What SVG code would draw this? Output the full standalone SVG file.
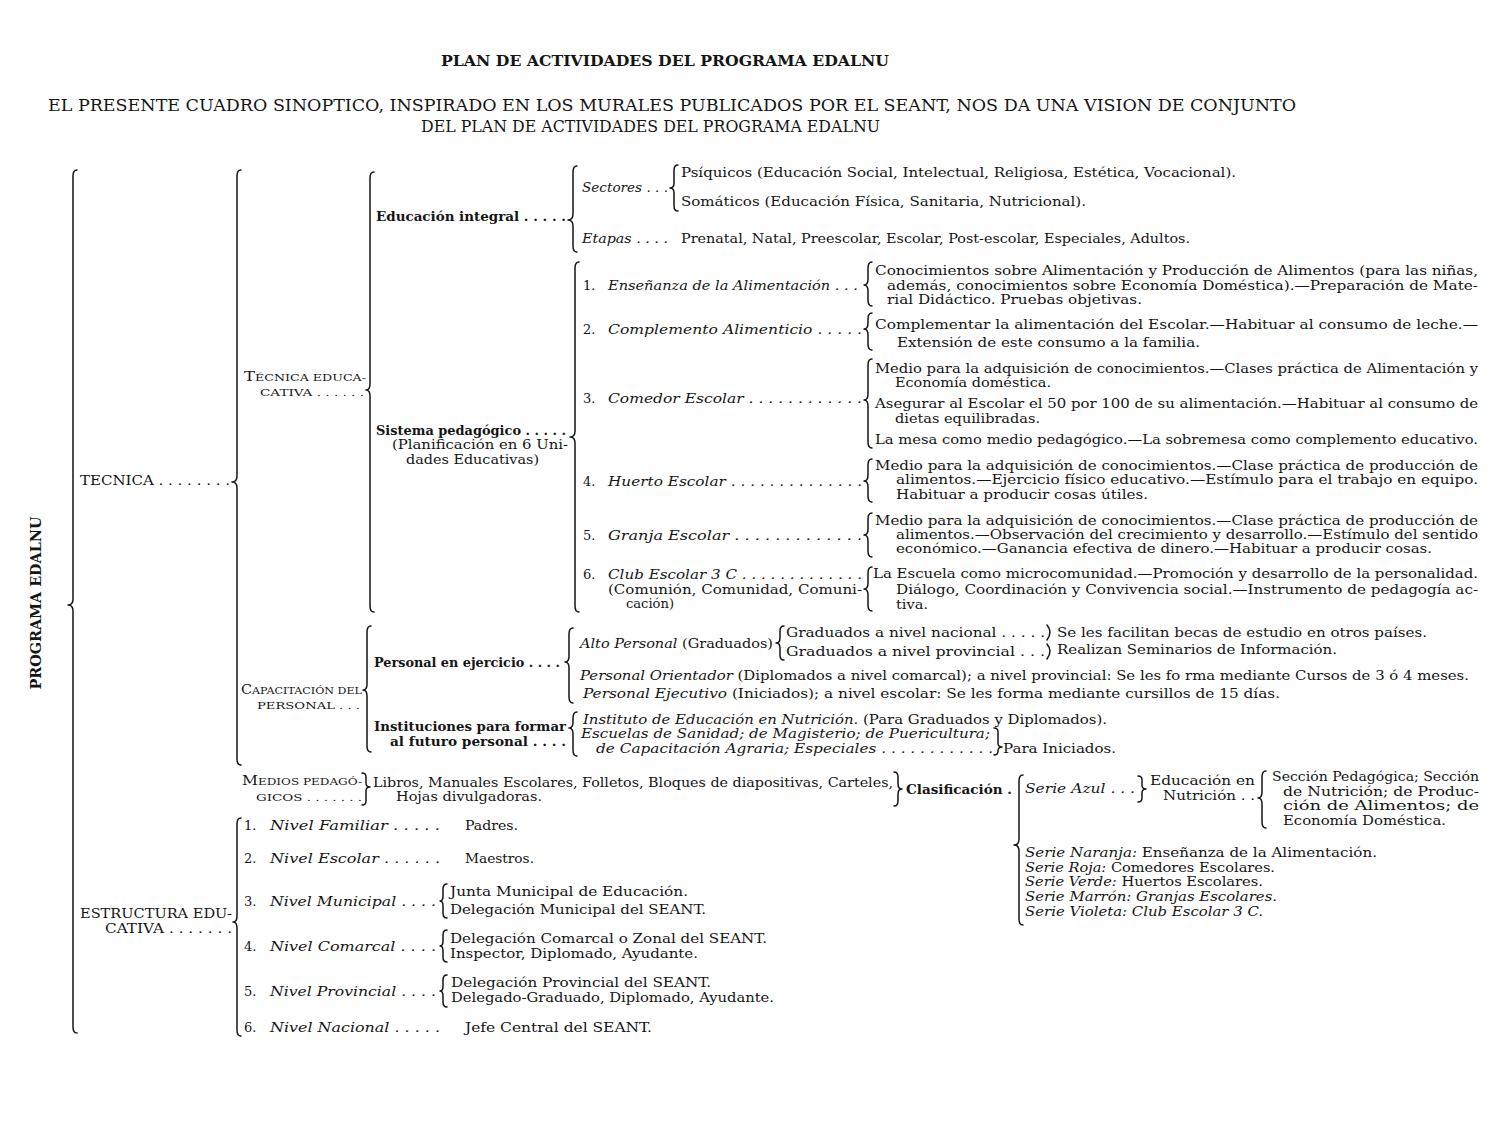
<svg xmlns="http://www.w3.org/2000/svg" width="1500" height="1138" viewBox="0 0 1500 1138">
<style>
text{font-family:"DejaVu Serif","Liberation Serif",serif;font-size:13px;fill:#151515}
.i{font-style:italic}
.b{font-weight:bold}
.sc{font-size:10px}
.big{font-size:13.5px}
.br{fill:none;stroke:#151515;stroke-width:1.5;stroke-linejoin:round;stroke-linecap:round}
</style>
<rect width="1500" height="1138" fill="#ffffff"/>

<g id="title">
<text x="441" y="66" class="b" style="font-size:15px" textLength="448" lengthAdjust="spacingAndGlyphs">PLAN DE ACTIVIDADES DEL PROGRAMA EDALNU</text>
<text x="48" y="111" style="font-size:16px" textLength="1248" lengthAdjust="spacingAndGlyphs">EL PRESENTE CUADRO SINOPTICO, INSPIRADO EN LOS MURALES PUBLICADOS POR EL SEANT, NOS DA UNA VISION DE CONJUNTO</text>
<text x="421" y="132" style="font-size:16px" textLength="459" lengthAdjust="spacingAndGlyphs">DEL PLAN DE ACTIVIDADES DEL PROGRAMA EDALNU</text>
</g>

<g id="connectors">
<path class="br" d="M77,170 Q73,170 73,176 L73,599 Q73,605 68,605 Q73,605 73,611 L73,1027 Q73,1033 77,1033"/>
<path class="br" d="M241,170 Q237,170 237,176 L237,476 Q237,482 232,482 Q237,482 237,488 L237,759 Q237,765 241,765"/>
<path class="br" d="M241,818 Q237,818 237,824 L237,916 Q237,922 233,922 Q237,922 237,928 L237,1030 Q237,1036 241,1036"/>
<path class="br" d="M374,172 Q370,172 370,178 L370,384 Q370,390 366,390 Q370,390 370,396 L370,606 Q370,612 374,612"/>
<path class="br" d="M371,626 Q367,626 367,632 L367,684 Q367,690 363,690 Q367,690 367,696 L367,746 Q367,752 371,752"/>
<path class="br" d="M362,773 Q366,773 366,777 L366,783 Q366,787 370,787 Q366,787 366,791 L366,801 Q366,805 362,805"/>
<path class="br" d="M577,166 Q573,166 573,172 L573,214 Q573,220 568,220 Q573,220 573,226 L573,246 Q573,252 577,252"/>
<path class="br" d="M579,262 Q575,262 575,268 L575,431 Q575,437 570,437 Q575,437 575,443 L575,606 Q575,612 579,612"/>
<path class="br" d="M573,628 Q569,628 569,634 L569,656 Q569,662 565,662 Q569,662 569,668 L569,697 Q569,703 573,703"/>
<path class="br" d="M577,712 Q573,712 573,718 L573,722 Q573,728 569,728 Q573,728 573,734 L573,750 Q573,756 577,756"/>
<path class="br" d="M678,165 Q674,165 674,170 L674,183 Q674,188 670,188 Q674,188 674,193 L674,206 Q674,211 678,211"/>
<path class="br" d="M872,262 Q868,262 868,268 L868,279 Q868,285 864,285 Q868,285 868,291 L868,300 Q868,306 872,306"/>
<path class="br" d="M872,313 Q868,313 868,319 L868,323 Q868,329 864,329 Q868,329 868,335 L868,344 Q868,350 872,350"/>
<path class="br" d="M872,359 Q868,359 868,365 L868,394 Q868,400 864,400 Q868,400 868,406 L868,442 Q868,448 872,448"/>
<path class="br" d="M872,459 Q868,459 868,465 L868,475 Q868,481 864,481 Q868,481 868,487 L868,496 Q868,502 872,502"/>
<path class="br" d="M872,513 Q868,513 868,519 L868,529 Q868,535 864,535 Q868,535 868,541 L868,551 Q868,557 872,557"/>
<path class="br" d="M872,567 Q868,567 868,573 L868,583 Q868,589 864,589 Q868,589 868,595 L868,605 Q868,611 872,611"/>
<path class="br" d="M784,626 Q780,626 780,631 L780,638 Q780,643 776,643 Q780,643 780,648 L780,655 Q780,660 784,660"/>
<path class="br" d="M1047,625 Q1053,632 1047,640"/>
<path class="br" d="M1047,644 Q1053,651 1047,659"/>
<path class="br" d="M994,728 Q998,728 998,732 L998,743 Q998,747 1002,747 Q998,747 998,751 L998,751 Q998,755 994,755"/>
<path class="br" d="M894,772 Q898,772 898,777 L898,784 Q898,789 902,789 Q898,789 898,794 L898,801 Q898,806 894,806"/>
<path class="br" d="M1023,775 Q1019,775 1019,781 L1019,839 Q1019,845 1014,845 Q1019,845 1019,851 L1019,919 Q1019,925 1023,925"/>
<path class="br" d="M1138,776 Q1142,776 1142,780 L1142,785 Q1142,789 1146,789 Q1142,789 1142,793 L1142,798 Q1142,802 1138,802"/>
<path class="br" d="M1266,771 Q1262,771 1262,777 L1262,792 Q1262,798 1258,798 Q1262,798 1262,804 L1262,822 Q1262,828 1266,828"/>
<path class="br" d="M447,884 Q443,884 443,889 L443,896 Q443,901 440,901 Q443,901 443,906 L443,913 Q443,918 447,918"/>
<path class="br" d="M447,930 Q443,930 443,935 L443,941 Q443,946 440,946 Q443,946 443,951 L443,957 Q443,962 447,962"/>
<path class="br" d="M447,975 Q443,975 443,980 L443,986 Q443,991 440,991 Q443,991 443,996 L443,1002 Q443,1007 447,1007"/>
</g>

<g id="n-programa">
<text transform="translate(41,603) rotate(-90)" text-anchor="middle" class="b" style="font-size:14px" textLength="173" lengthAdjust="spacingAndGlyphs">PROGRAMA EDALNU</text>
</g>

<g id="n-tecnica">
<text x="80" y="485" textLength="150" lengthAdjust="spacingAndGlyphs">TECNICA . . . . . . . .</text>
</g>

<g id="n-tecnica-educativa">
<text x="244" y="381" textLength="122" lengthAdjust="spacingAndGlyphs">T<tspan class="sc">ÉCNICA EDUCA-</tspan></text>
<text x="260" y="396" class="sc" textLength="104" lengthAdjust="spacingAndGlyphs">CATIVA . . . . . .</text>
</g>

<g id="n-educacion-integral">
<text x="376" y="221" class="b" textLength="190" lengthAdjust="spacingAndGlyphs">Educación integral . . . . .</text>
<text x="582" y="192" class="i" textLength="86" lengthAdjust="spacingAndGlyphs">Sectores . . .</text>
<text x="681" y="177" textLength="555" lengthAdjust="spacingAndGlyphs">Psíquicos (Educación Social, Intelectual, Religiosa, Estética, Vocacional).</text>
<text x="681" y="206" textLength="405" lengthAdjust="spacingAndGlyphs">Somáticos (Educación Física, Sanitaria, Nutricional).</text>
<text x="582" y="243" class="i" textLength="86" lengthAdjust="spacingAndGlyphs">Etapas . . . .</text>
<text x="681" y="243" textLength="509" lengthAdjust="spacingAndGlyphs">Prenatal, Natal, Preescolar, Escolar, Post-escolar, Especiales, Adultos.</text>
</g>

<g id="n-sistema-pedagogico">
<text x="376" y="435" class="b" textLength="190" lengthAdjust="spacingAndGlyphs">Sistema pedagógico . . . . .</text>
<text x="392" y="449" textLength="176" lengthAdjust="spacingAndGlyphs">(Planificación en 6 Uni-</text>
<text x="406" y="464" textLength="133" lengthAdjust="spacingAndGlyphs">dades Educativas)</text>
</g>

<g id="n-item1">
<text x="583" y="290">1.</text>
<text x="608" y="290" class="i" textLength="250" lengthAdjust="spacingAndGlyphs">Enseñanza de la Alimentación . . .</text>
<text x="875" y="275" textLength="603" lengthAdjust="spacingAndGlyphs">Conocimientos sobre Alimentación y Producción de Alimentos (para las niñas,</text>
<text x="887" y="290" textLength="591" lengthAdjust="spacingAndGlyphs">además, conocimientos sobre Economía Doméstica).—Preparación de Mate-</text>
<text x="887" y="304" textLength="255" lengthAdjust="spacingAndGlyphs">rial Didáctico. Pruebas objetivas.</text>
</g>

<g id="n-item2">
<text x="583" y="334">2.</text>
<text x="608" y="334" class="i" textLength="254" lengthAdjust="spacingAndGlyphs">Complemento Alimenticio . . . . .</text>
<text x="875" y="329" textLength="603" lengthAdjust="spacingAndGlyphs">Complementar la alimentación del Escolar.—Habituar al consumo de leche.—</text>
<text x="897" y="347" textLength="303" lengthAdjust="spacingAndGlyphs">Extensión de este consumo a la familia.</text>
</g>

<g id="n-item3">
<text x="583" y="403">3.</text>
<text x="608" y="403" class="i" textLength="254" lengthAdjust="spacingAndGlyphs">Comedor Escolar . . . . . . . . . . . .</text>
<text x="875" y="373" textLength="603" lengthAdjust="spacingAndGlyphs">Medio para la adquisición de conocimientos.—Clases práctica de Alimentación y</text>
<text x="895" y="387" textLength="156" lengthAdjust="spacingAndGlyphs">Economía doméstica.</text>
<text x="875" y="408" textLength="603" lengthAdjust="spacingAndGlyphs">Asegurar al Escolar el 50 por 100 de su alimentación.—Habituar al consumo de</text>
<text x="895" y="423" textLength="145" lengthAdjust="spacingAndGlyphs">dietas equilibradas.</text>
<text x="875" y="444" textLength="603" lengthAdjust="spacingAndGlyphs">La mesa como medio pedagógico.—La sobremesa como complemento educativo.</text>
</g>

<g id="n-item4">
<text x="583" y="486">4.</text>
<text x="608" y="486" class="i" textLength="254" lengthAdjust="spacingAndGlyphs">Huerto Escolar . . . . . . . . . . . . . .</text>
<text x="875" y="470" textLength="603" lengthAdjust="spacingAndGlyphs">Medio para la adquisición de conocimientos.—Clase práctica de producción de</text>
<text x="896" y="484" textLength="582" lengthAdjust="spacingAndGlyphs">alimentos.—Ejercicio físico educativo.—Estímulo para el trabajo en equipo.</text>
<text x="896" y="499" textLength="252" lengthAdjust="spacingAndGlyphs">Habituar a producir cosas útiles.</text>
</g>

<g id="n-item5">
<text x="583" y="540">5.</text>
<text x="608" y="540" class="i" textLength="254" lengthAdjust="spacingAndGlyphs">Granja Escolar . . . . . . . . . . . . .</text>
<text x="875" y="525" textLength="603" lengthAdjust="spacingAndGlyphs">Medio para la adquisición de conocimientos.—Clase práctica de producción de</text>
<text x="896" y="539" textLength="582" lengthAdjust="spacingAndGlyphs">alimentos.—Observación del crecimiento y desarrollo.—Estímulo del sentido</text>
<text x="896" y="553" textLength="536" lengthAdjust="spacingAndGlyphs">económico.—Ganancia efectiva de dinero.—Habituar a producir cosas.</text>
</g>

<g id="n-item6">
<text x="583" y="579">6.</text>
<text x="608" y="579" class="i" textLength="254" lengthAdjust="spacingAndGlyphs">Club Escolar 3 C . . . . . . . . . . . . .</text>
<text x="608" y="594" textLength="254" lengthAdjust="spacingAndGlyphs">(Comunión, Comunidad, Comuni-</text>
<text x="626" y="608" textLength="48" lengthAdjust="spacingAndGlyphs">cación)</text>
<text x="873" y="578" textLength="605" lengthAdjust="spacingAndGlyphs">La Escuela como microcomunidad.—Promoción y desarrollo de la personalidad.</text>
<text x="896" y="594" textLength="582" lengthAdjust="spacingAndGlyphs">Diálogo, Coordinación y Convivencia social.—Instrumento de pedagogía ac-</text>
<text x="896" y="609" textLength="32" lengthAdjust="spacingAndGlyphs">tiva.</text>
</g>

<g id="n-capacitacion">
<text x="241" y="694" textLength="121" lengthAdjust="spacingAndGlyphs">C<tspan class="sc">APACITACIÓN DEL</tspan></text>
<text x="257" y="709" class="sc" textLength="103" lengthAdjust="spacingAndGlyphs">PERSONAL . . .</text>
</g>

<g id="n-personal-ejercicio">
<text x="374" y="667" class="b" textLength="186" lengthAdjust="spacingAndGlyphs">Personal en ejercicio . . . .</text>
<text x="580" y="648" textLength="193" lengthAdjust="spacingAndGlyphs"><tspan class="i">Alto Personal</tspan> (Graduados)</text>
<text x="786" y="637" textLength="259" lengthAdjust="spacingAndGlyphs">Graduados a nivel nacional . . . . .</text>
<text x="1057" y="637" textLength="370" lengthAdjust="spacingAndGlyphs">Se les facilitan becas de estudio en otros países.</text>
<text x="786" y="656" textLength="259" lengthAdjust="spacingAndGlyphs">Graduados a nivel provincial . . .</text>
<text x="1057" y="654" textLength="280" lengthAdjust="spacingAndGlyphs">Realizan Seminarios de Información.</text>
<text x="580" y="680" textLength="889" lengthAdjust="spacingAndGlyphs"><tspan class="i">Personal Orientador</tspan> (Diplomados a nivel comarcal); a nivel provincial: Se les fo rma mediante Cursos de 3 ó 4 meses.</text>
<text x="583" y="698" textLength="697" lengthAdjust="spacingAndGlyphs"><tspan class="i">Personal Ejecutivo</tspan> (Iniciados); a nivel escolar: Se les forma mediante cursillos  de 15 días.</text>
</g>

<g id="n-instituciones">
<text x="374" y="731" class="b" textLength="192" lengthAdjust="spacingAndGlyphs">Instituciones para formar</text>
<text x="390" y="746" class="b" textLength="176" lengthAdjust="spacingAndGlyphs">al futuro personal . . . .</text>
<text x="583" y="724" textLength="524" lengthAdjust="spacingAndGlyphs"><tspan class="i">Instituto de Educación en Nutrición.</tspan> (Para Graduados y Diplomados).</text>
<text x="581" y="738" class="i" textLength="409" lengthAdjust="spacingAndGlyphs">Escuelas de Sanidad; de Magisterio; de Puericultura;</text>
<text x="596" y="753" class="i" textLength="397" lengthAdjust="spacingAndGlyphs">de Capacitación Agraria; Especiales . . . . . . . . . . . .</text>
<text x="1003" y="753" textLength="113" lengthAdjust="spacingAndGlyphs">Para Iniciados.</text>
</g>

<g id="n-medios">
<text x="242" y="785" textLength="120" lengthAdjust="spacingAndGlyphs">M<tspan class="sc">EDIOS PEDAGÓ-</tspan></text>
<text x="256" y="801" class="sc" textLength="106" lengthAdjust="spacingAndGlyphs">GICOS . . . . . . .</text>
<text x="373" y="787" textLength="520" lengthAdjust="spacingAndGlyphs">Libros, Manuales Escolares, Folletos, Bloques de diapositivas, Carteles,</text>
<text x="396" y="801" textLength="146" lengthAdjust="spacingAndGlyphs">Hojas divulgadoras.</text>
</g>

<g id="n-clasificacion">
<text x="906" y="794" class="b" textLength="106" lengthAdjust="spacingAndGlyphs">Clasificación .</text>
<text x="1025" y="793" class="i" textLength="110" lengthAdjust="spacingAndGlyphs">Serie Azul . . .</text>
<text x="1150" y="785" textLength="105" lengthAdjust="spacingAndGlyphs">Educación en</text>
<text x="1163" y="800" textLength="92" lengthAdjust="spacingAndGlyphs">Nutrición . .</text>
<text x="1272" y="781" textLength="207" lengthAdjust="spacingAndGlyphs">Sección Pedagógica; Sección</text>
<text x="1283" y="796" textLength="196" lengthAdjust="spacingAndGlyphs">de Nutrición; de Produc-</text>
<text x="1283" y="810" textLength="196" lengthAdjust="spacingAndGlyphs">ción de Alimentos; de</text>
<text x="1283" y="825" textLength="163" lengthAdjust="spacingAndGlyphs">Economía Doméstica.</text>
<text x="1025" y="857" textLength="352" lengthAdjust="spacingAndGlyphs"><tspan class="i">Serie Naranja:</tspan> Enseñanza de la Alimentación.</text>
<text x="1025" y="872" textLength="250" lengthAdjust="spacingAndGlyphs"><tspan class="i">Serie Roja:</tspan> Comedores Escolares.</text>
<text x="1025" y="886" textLength="238" lengthAdjust="spacingAndGlyphs"><tspan class="i">Serie Verde:</tspan> Huertos Escolares.</text>
<text x="1025" y="901" class="i" textLength="252" lengthAdjust="spacingAndGlyphs">Serie Marrón: Granjas Escolares.</text>
<text x="1025" y="916" class="i" textLength="238" lengthAdjust="spacingAndGlyphs">Serie Violeta: Club Escolar 3 C.</text>
</g>

<g id="n-estructura">
<text x="80" y="918" textLength="152" lengthAdjust="spacingAndGlyphs">ESTRUCTURA EDU-</text>
<text x="105" y="933" textLength="127" lengthAdjust="spacingAndGlyphs">CATIVA . . . . . . .</text>
</g>

<g id="n-niveles">
<text x="244" y="830">1.</text>
<text x="270" y="830" class="i" textLength="170" lengthAdjust="spacingAndGlyphs">Nivel Familiar . . . . .</text>
<text x="465" y="830" textLength="53" lengthAdjust="spacingAndGlyphs">Padres.</text>
<text x="244" y="863">2.</text>
<text x="270" y="863" class="i" textLength="170" lengthAdjust="spacingAndGlyphs">Nivel Escolar . . . . . .</text>
<text x="465" y="863" textLength="69" lengthAdjust="spacingAndGlyphs">Maestros.</text>
<text x="244" y="906">3.</text>
<text x="270" y="906" class="i" textLength="166" lengthAdjust="spacingAndGlyphs">Nivel Municipal . . . .</text>
<text x="450" y="896" textLength="238" lengthAdjust="spacingAndGlyphs">Junta Municipal de Educación.</text>
<text x="450" y="914" textLength="256" lengthAdjust="spacingAndGlyphs">Delegación Municipal del SEANT.</text>
<text x="244" y="951">4.</text>
<text x="270" y="951" class="i" textLength="166" lengthAdjust="spacingAndGlyphs">Nivel Comarcal . . . .</text>
<text x="450" y="943" textLength="317" lengthAdjust="spacingAndGlyphs">Delegación Comarcal o Zonal del SEANT.</text>
<text x="450" y="958" textLength="248" lengthAdjust="spacingAndGlyphs">Inspector, Diplomado, Ayudante.</text>
<text x="244" y="996">5.</text>
<text x="270" y="996" class="i" textLength="166" lengthAdjust="spacingAndGlyphs">Nivel Provincial . . . .</text>
<text x="451" y="987" textLength="260" lengthAdjust="spacingAndGlyphs">Delegación Provincial del SEANT.</text>
<text x="451" y="1002" textLength="323" lengthAdjust="spacingAndGlyphs">Delegado-Graduado, Diplomado, Ayudante.</text>
<text x="244" y="1032">6.</text>
<text x="270" y="1032" class="i" textLength="170" lengthAdjust="spacingAndGlyphs">Nivel Nacional . . . . .</text>
<text x="465" y="1032" textLength="187" lengthAdjust="spacingAndGlyphs">Jefe Central del SEANT.</text>
</g>
</svg>
